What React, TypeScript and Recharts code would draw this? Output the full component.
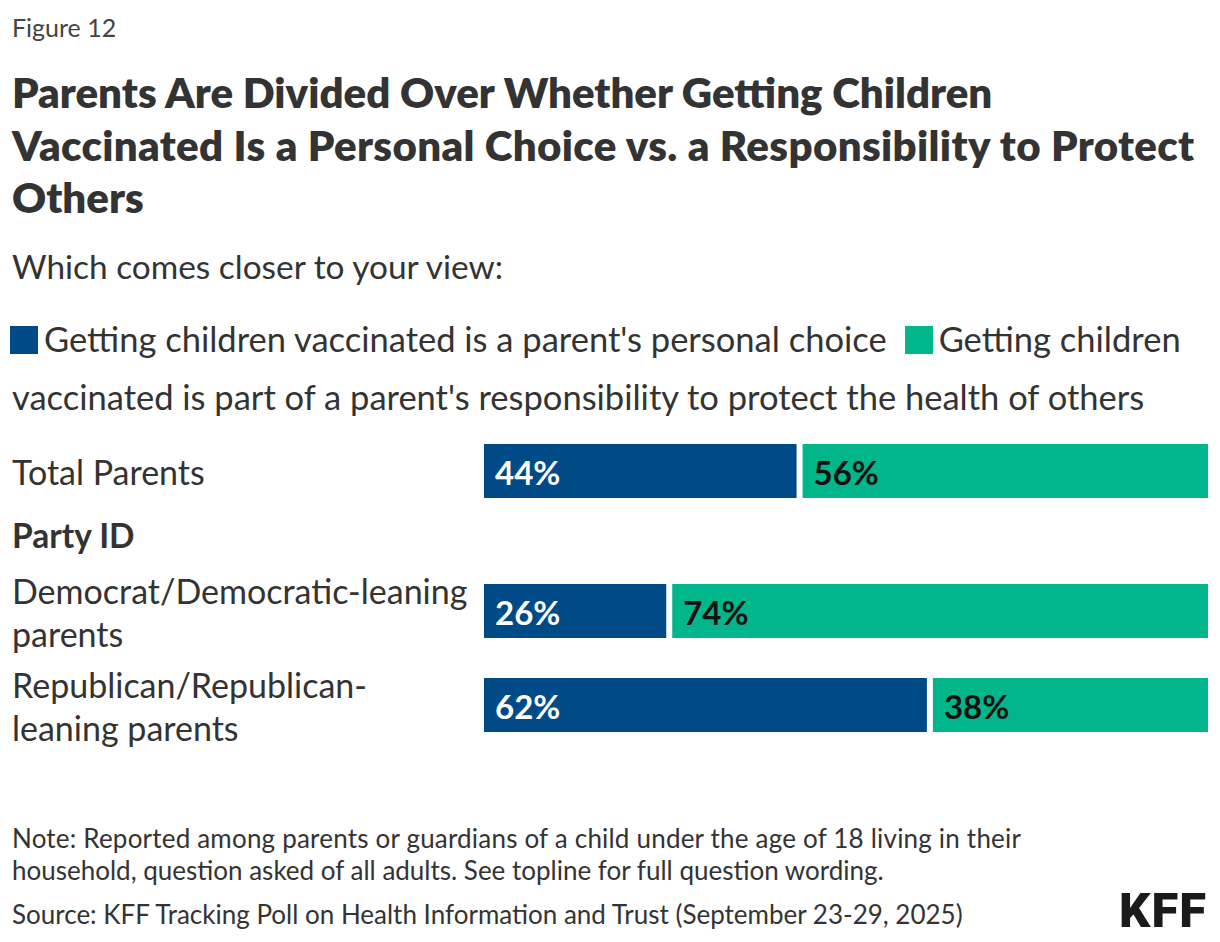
import { BarChart, Bar, XAxis, YAxis, LabelList } from "recharts";

const totalRow = ["Total Parents"];
const partyRows = ["Democrat/Democratic-leaning parents", "Republican/Republican-leaning parents"];
const partyRowLines = [
  ["Democrat/Democratic-leaning", "parents"],
  ["Republican/Republican-", "leaning parents"],
];
const choiceTotal = [44];
const protectTotal = [56];
const choiceParty = [26, 62];
const protectParty = [74, 38];

const BLUE = "#004a87";
const GREEN = "#00b68a";
const FONT = "Lato, 'Noto Sans', sans-serif";

const totalData = totalRow.map((name, i) => ({
  name,
  lines: [name],
  choice: choiceTotal[i],
  protect: protectTotal[i],
}));
const partyData = partyRows.map((name, i) => ({
  name,
  lines: partyRowLines[i],
  choice: choiceParty[i],
  protect: protectParty[i],
}));

// first segment gets a small white gap on its right edge
const GapShape = (props: any) => {
  const { x, y, width, height, fill } = props;
  return <rect x={x} y={y} width={Math.max(width - 6, 0)} height={height} fill={fill} />;
};

const makeTick = (rows: { name: string; lines: string[] }[]) => (props: any) => {
  const { y, payload } = props;
  const row = rows.find((r) => r.name === payload.value);
  const lines = row ? row.lines : [payload.value];
  const lh = 43;
  const start = y - ((lines.length - 1) * lh) / 2;
  return (
    <text x={12} y={start} fill="#333" fontSize={34} fontFamily={FONT} dominantBaseline="central">
      {lines.map((l, i) => (
        <tspan key={i} x={12} y={start + i * lh} dominantBaseline="central">
          {l}
        </tspan>
      ))}
    </text>
  );
};

const pctLabel = (color: string) => (props: any) => {
  const { x, y, height, value } = props;
  return (
    <text
      x={x + 11}
      y={y + height / 2 + 1}
      fill={color}
      fontSize={33}
      fontWeight={700}
      fontFamily={FONT}
      dominantBaseline="central"
    >
      {value}%
    </text>
  );
};

function Rows({ data, height }: { data: any[]; height: number }) {
  return (
    <BarChart
      width={1220}
      height={height}
      data={data}
      layout="vertical"
      margin={{ top: 0, right: 12, bottom: 0, left: 0 }}
      barSize={54}
    >
      <XAxis type="number" domain={[0, 100]} hide />
      <YAxis
        type="category"
        dataKey="name"
        width={484}
        axisLine={false}
        tickLine={false}
        tick={makeTick(data)}
      />
      <Bar dataKey="choice" stackId="a" fill={BLUE} shape={GapShape} isAnimationActive={false}>
        <LabelList dataKey="choice" content={pctLabel("#fff")} />
      </Bar>
      <Bar dataKey="protect" stackId="a" fill={GREEN} isAnimationActive={false}>
        <LabelList dataKey="protect" content={pctLabel("#111")} />
      </Bar>
    </BarChart>
  );
}

export default function App() {
  const abs = (top: number, extra: React.CSSProperties = {}): React.CSSProperties => ({
    position: "absolute",
    left: 12,
    top,
    ...extra,
  });
  const square = (bg: string, ml: number): React.CSSProperties => ({
    display: "inline-block",
    width: 28,
    height: 28,
    background: bg,
    verticalAlign: "-2px",
    marginLeft: ml,
    marginRight: 6,
  });
  return (
    <div style={{ position: "relative", width: 1220, height: 942, margin: -8, fontFamily: FONT, color: "#333", background: "#fff" }}>
      <div style={abs(12, { fontSize: 25, lineHeight: "30px", color: "#444" })}>Figure 12</div>
      <div style={abs(66, { fontSize: 42, lineHeight: "52.5px", fontWeight: 800, width: 1205, color: "#333" })}>
        <div>Parents Are Divided Over Whether Getting Children</div>
        <div style={{ letterSpacing: 0.35 }}>Vaccinated Is a Personal Choice vs. a Responsibility to Protect</div>
        <div>Others</div>
      </div>
      <div style={abs(246, { fontSize: 33.4, lineHeight: "40px" })}>Which comes closer to your view:</div>
      <div style={abs(310, { left: 10, fontSize: 34.5, lineHeight: "58px", width: 1205, whiteSpace: "nowrap" })}>
        <div>
          <span style={square(BLUE, 0)} />
          <span>Getting children vaccinated is a parent's personal choice</span>
          <span style={square(GREEN, 18)} />
          <span>Getting children</span>
        </div>
        <div style={{ paddingLeft: 2 }}>vaccinated is part of a parent's responsibility to protect the health of others</div>
      </div>
      <div style={{ position: "absolute", left: 0, top: 420 }}>
        <Rows data={totalData} height={102} />
      </div>
      <div style={abs(515, { fontSize: 33.5, lineHeight: "40px", fontWeight: 700 })}>Party ID</div>
      <div style={{ position: "absolute", left: 0, top: 564 }}>
        <Rows data={partyData} height={188} />
      </div>
      <div style={abs(822, { fontSize: 26, lineHeight: "32px", width: 1060 })}>
        <div style={{ letterSpacing: 0.2 }}>Note: Reported among parents or guardians of a child under the age of 18 living in their</div>
        <div>household, question asked of all adults. See topline for full question wording.</div>
      </div>
      <div style={abs(898, { fontSize: 26, lineHeight: "32px" })}>
        Source: KFF Tracking Poll on Health Information and Trust (September 23-29, 2025)
      </div>
      <div
        style={{
          position: "absolute",
          right: 13,
          top: 885,
          fontSize: 49,
          lineHeight: "52px",
          fontWeight: 900,
          color: "#1a1a1a",
          fontFamily: "Roboto, sans-serif",
          letterSpacing: 1,
        }}
      >
        KFF
      </div>
    </div>
  );
}
